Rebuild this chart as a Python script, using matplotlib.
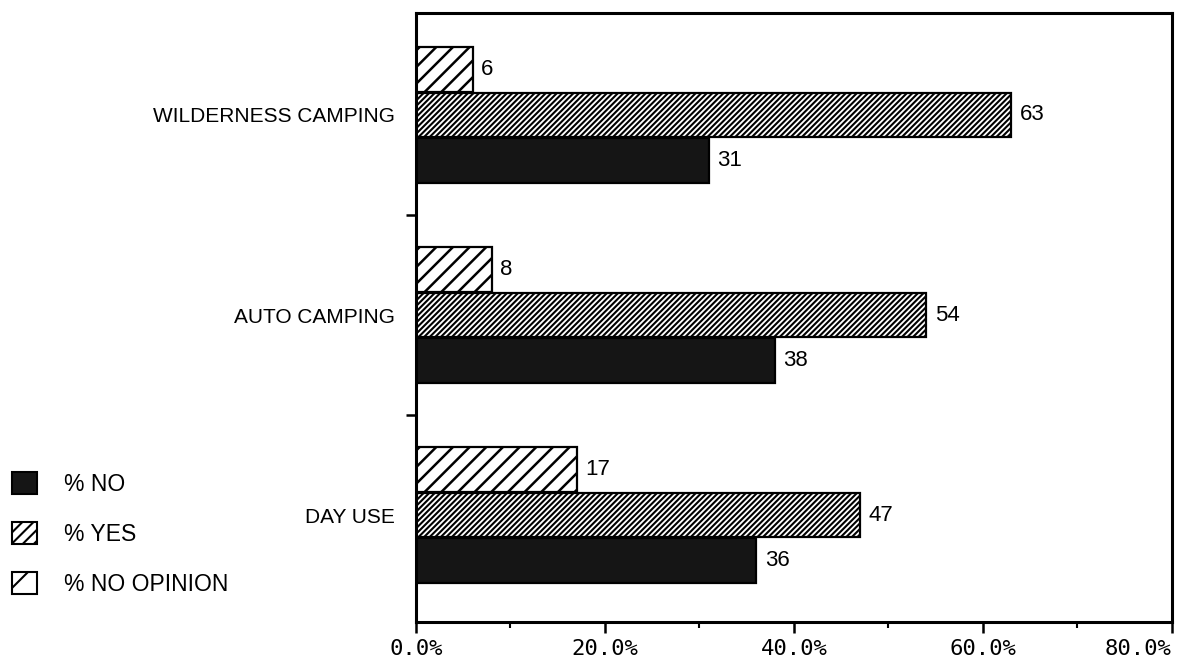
import matplotlib
matplotlib.use("Agg")
import matplotlib.pyplot as plt
import matplotlib.patches as mpatches
from matplotlib.ticker import PercentFormatter, MultipleLocator
import numpy as np

# ── Data (percent of respondents, top group first) ───────────────────────────
categories = ["WILDERNESS CAMPING", "AUTO CAMPING", "DAY USE"]
pct_no_opinion = [6, 8, 17]
pct_yes = [63, 54, 47]
pct_no = [31, 38, 36]
series_labels = ["% NO", "% YES", "% NO OPINION"]
x_ticks = [0, 20, 40, 60, 80]

plt.rcParams["font.family"] = ["Liberation Sans", "DejaVu Sans"]

fig = plt.figure(figsize=(11.8, 6.66), dpi=100)
ax = fig.add_axes([0.3525, 0.066, 0.6407, 0.9145])

ypos = np.arange(len(categories))[::-1]
h = 0.222
step = 0.228

plt.rcParams["hatch.linewidth"] = 1.8
b_op = ax.barh(ypos + step, pct_no_opinion, h, color="white", edgecolor="black",
               linewidth=1.6, hatch="//")
plt.rcParams["hatch.linewidth"] = 1.5
b_yes = ax.barh(ypos, pct_yes, h, color="white", edgecolor="black",
                linewidth=1.6, hatch="//////")
b_no = ax.barh(ypos - step, pct_no, h, color="#151515", edgecolor="black",
               linewidth=1.6)

for bars in (b_op, b_yes, b_no):
    for bar in bars:
        w = bar.get_width()
        ax.text(w + 0.9, bar.get_y() + bar.get_height() / 2, f"{w:.0f}",
                va="center", ha="left", fontsize=16)

ax.set_xlim(0, 80)
ax.set_ylim(-0.535, 2.51)

ax.set_xticks(x_ticks)
ax.xaxis.set_minor_locator(MultipleLocator(10))
ax.xaxis.set_major_formatter(PercentFormatter(decimals=1))
ax.tick_params(axis="x", which="major", length=8, width=1.8, direction="out",
               labelsize=16, labelfontfamily="DejaVu Sans Mono", pad=4)
ax.tick_params(axis="x", which="minor", length=4, width=1.5, direction="out")

ax.set_yticks([0.5, 1.5])
ax.set_yticklabels([])
ax.set_yticks(ypos, labels=categories, minor=True)
ax.tick_params(axis="y", which="major", length=7, width=1.8, direction="out")
ax.tick_params(axis="y", which="minor", length=0, pad=15, labelsize=15)

for sp in ax.spines.values():
    sp.set_linewidth(2.2)

# last tick label sits flush against the right edge, as in the original
fig.canvas.draw()
for t in ax.xaxis.get_major_ticks():
    if np.isclose(t.get_loc(), 80):
        t.label1.set_horizontalalignment("right")

plt.rcParams["hatch.linewidth"] = 1.5
handles = [
    mpatches.Patch(facecolor="#151515", edgecolor="black", linewidth=1.5),
    mpatches.Patch(facecolor="white", edgecolor="black", linewidth=1.5, hatch="///"),
    mpatches.Patch(facecolor="white", edgecolor="black", linewidth=1.5, hatch="/"),
]
fig.legend(handles, series_labels, loc="upper left", bbox_to_anchor=(0.004, 0.302),
           frameon=False, fontsize=16.5, handlelength=1.1, handleheight=1.1,
           handletextpad=1.2, labelspacing=1.15, borderaxespad=0, borderpad=0.3)

fig.savefig("out.png", dpi=100)
